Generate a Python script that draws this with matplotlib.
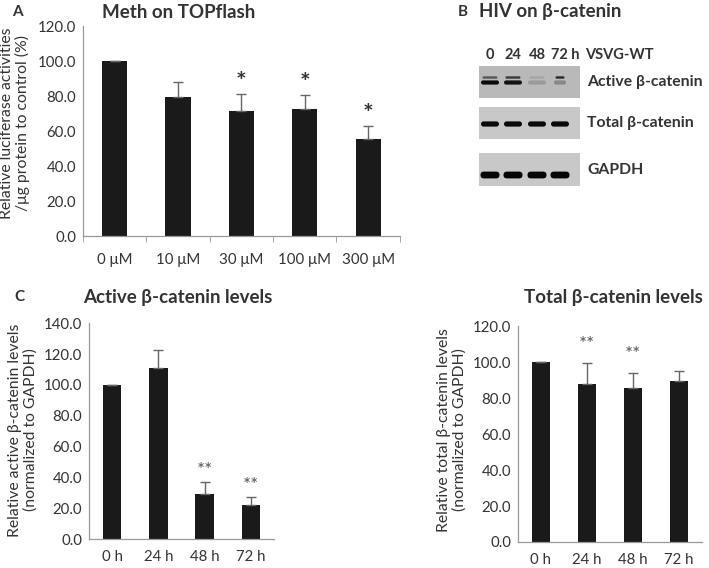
import numpy as np
import matplotlib
matplotlib.use("Agg")
import matplotlib.pyplot as plt
from matplotlib.patches import Rectangle, FancyBboxPatch

plt.rcParams['font.family'] = ['Lato', 'DejaVu Sans']

# Painel A - Meth on TOPflash
doses = ["0 μM", "10 μM", "30 μM", "100 μM", "300 μM"]
topflash = [100.0, 79.6, 71.4, 72.6, 55.4]
topflash_err = [0.0, 8.2, 9.6, 8.1, 7.3]
topflash_sig = ["", "", "*", "*", "*"]

# Painel C - níveis de beta-catenina
horas = ["0 h", "24 h", "48 h", "72 h"]
ativa = [100.0, 111.0, 29.0, 21.8]
ativa_err = [0.0, 11.5, 8.0, 5.6]
ativa_sig = ["", "", "**", "**"]
total = [100.0, 87.6, 85.7, 89.3]
total_err = [0.0, 11.7, 8.0, 5.5]
total_sig = ["", "**", "**", ""]

# Painel B - western blot (intensidade relativa das bandas)
lanes = ["0", "24", "48", "72 h"]
active_low = [0.95, 0.9, 0.2, 0.3]
active_up = [0.55, 0.7, 0.15, 0.8]
total_band = [0.95, 0.95, 0.95, 0.95]
gapdh_band = [0.97, 0.97, 0.97, 0.97]

TXT = "#333333"
BAR = "#1a1a1a"
SP = "#999999"

fig = plt.figure(figsize=(7.09, 5.68), dpi=100)


def barplot(ax, labels, vals, errs, sig, ymax, step, star_size, star_bold, star_off, xticks):
    x = np.arange(len(labels))
    ax.bar(x, vals, width=0.4, color=BAR, zorder=2)
    ax.errorbar(x, vals, yerr=[np.zeros(len(errs)), errs], fmt='none',
                ecolor="#666666", elinewidth=1, capsize=3.5, capthick=1, zorder=3)
    for xi, v, e, s in zip(x, vals, errs, sig):
        if s:
            ax.text(xi, v + e + star_off, s, ha='center', va='center',
                    fontsize=star_size, color=TXT if star_bold else "#555555",
                    fontweight='bold' if star_bold else 'normal')
    ax.set_xlim(-0.5, len(labels) - 0.5)
    ax.set_ylim(0, ymax)
    ax.set_yticks(np.arange(0, ymax + 0.1, step))
    ax.set_yticklabels([f"{t:.1f}" for t in np.arange(0, ymax + 0.1, step)])
    ax.set_xticks(x)
    ax.set_xticklabels(labels)
    ax.tick_params(axis='y', length=0, labelsize=10.8, colors=TXT, pad=5)
    ax.tick_params(axis='x', length=0, labelsize=10.8, colors=TXT, pad=8)
    if xticks:
        ax.set_xticks(np.arange(-0.5, len(labels)), minor=True)
        ax.tick_params(axis='x', which='minor', length=4, color=SP, direction='out')
    for s in ['top', 'right']:
        ax.spines[s].set_visible(False)
    for s in ['left', 'bottom']:
        ax.spines[s].set_color(SP)
        ax.spines[s].set_linewidth(0.9)


def ylab(xpx, ypx, txt):
    fig.text(xpx / 709, 1 - ypx / 568, txt, rotation=90, ha='center', va='center',
             multialignment='center', fontsize=11.3, color=TXT, linespacing=1.1)


axA = fig.add_axes([0.117, 0.5845, 0.447, 0.3695])
barplot(axA, doses, topflash, topflash_err, topflash_sig, 120, 20, 18, True, 6.5, True)
axA.tick_params(axis='x', pad=12)
ylab(15, 123, "Relative luciferase activities\n/μg protein to control (%)")

axC1 = fig.add_axes([0.1255, 0.051, 0.261, 0.380])
barplot(axC1, horas, ativa, ativa_err, ativa_sig, 140, 20, 13.5, False, 7.5, False)
ylab(23, 430, "Relative active β-catenin levels\n(normalized to GAPDH)")

axC2 = fig.add_axes([0.7306, 0.0458, 0.2594, 0.380])
barplot(axC2, horas, total, total_err, total_sig, 120, 20, 13.5, False, 10.5, False)
ylab(452, 430, "Relative total β-catenin levels\n(normalized to GAPDH)")

# títulos
fig.text(12 / 709, 1 - 12 / 568, "A", fontsize=11, fontweight='bold', color=TXT, va='center')
fig.text(179 / 709, 1 - 12 / 568, "Meth on TOPflash", fontsize=13.5, fontweight='bold',
         color=TXT, ha='center', va='center')
fig.text(458 / 709, 1 - 12 / 568, "B", fontsize=11, fontweight='bold', color=TXT, va='center')
fig.text(479 / 709, 1 - 12 / 568, "HIV on β-catenin", fontsize=13.5, fontweight='bold',
         color=TXT, ha='left', va='center')
fig.text(14 / 709, 1 - 297 / 568, "C", fontsize=11, fontweight='bold', color=TXT, va='center')
fig.text(178 / 709, 1 - 297 / 568, "Active β-catenin levels", fontsize=13.5, fontweight='bold',
         color=TXT, ha='center', va='center')
fig.text(613 / 709, 1 - 297 / 568, "Total β-catenin levels", fontsize=13.5, fontweight='bold',
         color=TXT, ha='center', va='center')

# Painel B - blot desenhado em coordenadas de pixel
axB = fig.add_axes([0, 0, 1, 1], zorder=-1)
axB.set_xlim(0, 709)
axB.set_ylim(568, 0)
axB.axis('off')

lane_x = [490, 513, 537, 560]
boxes = [(66, 98, "#b9b9b9", "Active β-catenin"),
         (107, 139, "#c8c8c8", "Total β-catenin"),
         (153, 186, "#c8c8c8", "GAPDH")]
for y0, y1, col, lab in boxes:
    axB.add_patch(Rectangle((479, y0), 101, y1 - y0, facecolor=col, edgecolor='none'))
    axB.text(587, (y0 + y1) / 2, lab, fontsize=11.3, fontweight='bold', color=TXT, va='center')


def band(x, y, w, h, inten):
    g = 0.76 * (1 - inten)
    axB.add_patch(FancyBboxPatch((x - w / 2, y - h / 2), w, h,
                                 boxstyle=f"round,pad=0,rounding_size={h / 2}",
                                 facecolor=(g, g, g), edgecolor='none'))


for i, lx in enumerate(lane_x):
    w = 12 if i == 3 else 18
    band(lx, 82.5, w, 4.2, active_low[i])
    band(lx, 77.5, w - 3, 2.4, active_up[i])
    band(lx, 124, 18, 5.2, total_band[i])
    band(lx, 175, 19, 6.8, gapdh_band[i])

for lx, lab in zip(lane_x, lanes):
    axB.text(lx if lab != "72 h" else lx + 5, 55, lab, fontsize=10.5, fontweight='bold',
             color=TXT, ha='center', va='center')
axB.text(585, 55, "VSVG-WT", fontsize=10.5, fontweight='bold', color=TXT, va='center')

fig.savefig("out.png", dpi=100)
